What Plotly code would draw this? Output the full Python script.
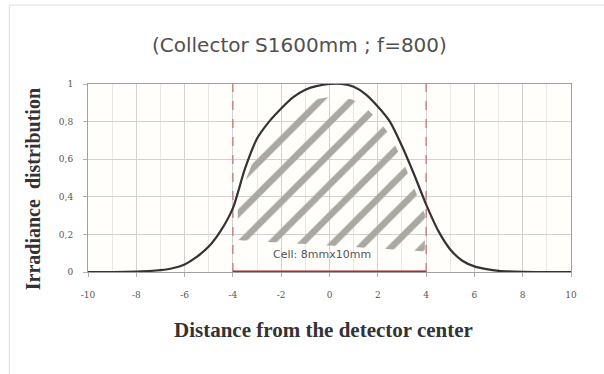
import numpy as np
import plotly.graph_objects as go

# Data
x_vals = [-10, -9, -8, -7.5, -7, -6.5, -6, -5.5, -5, -4.5, -4, -3.5, -3, -2.5, -2, -1.5, -1, -0.5,
          0, 0.5, 1, 1.5, 2, 2.5, 3, 3.5, 4, 4.5, 5, 5.5, 6, 6.5, 7, 8, 9, 10]
irradiance = [0, 0, 0.002, 0.005, 0.01, 0.02, 0.04, 0.08, 0.135, 0.22, 0.34, 0.55, 0.71, 0.80, 0.87,
              0.93, 0.97, 0.99, 1.0, 1.0, 0.985, 0.945, 0.88, 0.80, 0.67, 0.52, 0.36, 0.22, 0.12,
              0.06, 0.03, 0.015, 0.006, 0.001, 0, 0]
cell_edges = [-4, 4]
x_ticks = [-10, -8, -6, -4, -2, 0, 2, 4, 6, 8, 10]
x_ticktext = ["-10", "-8", "-6", "-4", "-2", "0", "2", "4", "6", "8", "10"]
y_ticks = [0, 0.2, 0.4, 0.6, 0.8, 1]
y_ticktext = ["0", "0,2", "0,4", "0,6", "0,8", "1"]
title_text = "(Collector S1600mm ; f=800)"
cell_label = "Cell: 8mmx10mm"

# Hatched region under the curve within the cell
hx = np.linspace(-3.8, 3.95, 60)
htop = np.interp(hx, x_vals, irradiance) - 0.07
hbot = np.linspace(0.17, 0.11, 60)
htop = np.maximum(htop, hbot)
poly_x = list(hx) + list(hx[::-1])
poly_y = list(htop) + list(hbot[::-1])

fig = go.Figure()
fig.add_trace(go.Scatter(
    x=poly_x, y=poly_y, mode="none", fill="toself",
    fillcolor="rgba(0,0,0,0)",
    fillpattern=dict(shape="/", size=22, solidity=0.3, fgcolor="#a9a9a2",
                     bgcolor="rgba(0,0,0,0)", fgopacity=1),
    hoverinfo="skip", showlegend=False))

for xe in cell_edges:
    fig.add_trace(go.Scatter(x=[xe, xe], y=[0, 1], mode="lines",
                             line=dict(color="#cc6060", width=1.1, dash="dash"),
                             showlegend=False))
fig.add_trace(go.Scatter(x=cell_edges, y=[0, 0], mode="lines",
                         line=dict(color="#b02828", width=3), showlegend=False))

fig.add_trace(go.Scatter(x=x_vals, y=irradiance, mode="lines",
                         line=dict(color="#333333", width=2.2, shape="spline", smoothing=0.8),
                         showlegend=False))

fig.add_annotation(x=-0.3, y=0.094, xref="x", yref="y", text=cell_label, showarrow=False,
                   font=dict(family="DejaVu Sans", size=11, color="#555555"))

fig.add_annotation(x=0.437, y=1.207, xref="paper", yref="paper", text=title_text,
                   xanchor="center", yanchor="middle",
                   showarrow=False, font=dict(family="DejaVu Sans", size=20, color="#505050"))
fig.add_annotation(x=-0.114, y=0.44, xref="paper", yref="paper",
                   text="<b>Irradiance  distribution</b>",
                   xanchor="center", yanchor="middle",
                   textangle=-90, showarrow=False,
                   font=dict(family="Liberation Serif", size=20, color="#333333"))
fig.add_annotation(x=0.487, y=-0.309, xref="paper", yref="paper",
                   text="<b>Distance from the detector center</b>", showarrow=False,
                   xanchor="center", yanchor="middle",
                   font=dict(family="Liberation Serif", size=21, color="#333333"))

# outer frame of the picture
fig.add_shape(type="rect", xref="paper", yref="paper", x0=-0.163, y0=-0.7, x1=1.2, y1=1.42,
              line=dict(color="#dddddd", width=1), fillcolor="rgba(0,0,0,0)", layer="below")

fig.update_xaxes(range=[-10, 10], tickvals=x_ticks, ticktext=x_ticktext,
                 showgrid=True, gridcolor="#d2d2d2", gridwidth=1,
                 minor=dict(dtick=1, showgrid=True, gridcolor="#e8e8e8"),
                 showline=True, linecolor="#a0a0a0", linewidth=1, mirror=True,
                 ticks="outside", ticklen=4, tickcolor="#b0b0b0",
                 ticklabelstandoff=10, zeroline=False,
                 tickfont=dict(family="DejaVu Serif", size=9, color="#555555"))
fig.update_yaxes(range=[0, 1], tickvals=y_ticks, ticktext=y_ticktext,
                 showgrid=True, gridcolor="#d2d2d2", gridwidth=1,
                 showline=True, linecolor="#a0a0a0", linewidth=1, mirror=True,
                 ticks="outside", ticklen=4, tickcolor="#b0b0b0",
                 ticklabelstandoff=8, zeroline=False,
                 tickfont=dict(family="DejaVu Serif", size=9, color="#555555"))

fig.update_layout(width=604, height=374, margin=dict(l=88, r=33, t=84, b=102),
                  paper_bgcolor="white", plot_bgcolor="#fffefb")

fig.write_html("out.html")
